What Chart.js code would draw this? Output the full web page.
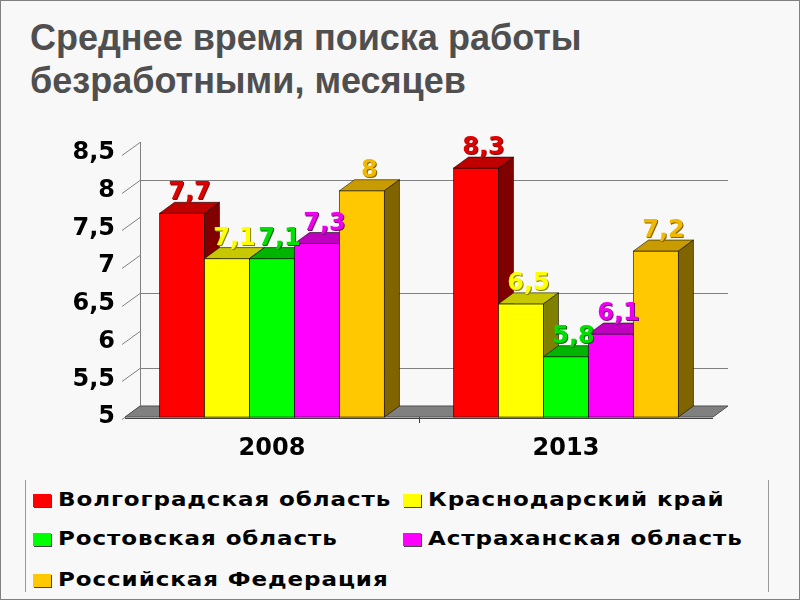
<!DOCTYPE html>
<html>
<head>
<meta charset="utf-8">
<script src="https://cdn.jsdelivr.net/npm/chart.js@4.4.0/dist/chart.umd.min.js"></script>
<style>
body { margin: 0; }
#slide { position: relative; width: 800px; height: 600px; background: #f8f8f8; overflow: hidden; outline: 1px solid #808080; outline-offset: -1px; }
#title { position: absolute; left: 30px; top: 16px; font: bold 36px "Liberation Sans", Arial, sans-serif; color: #4f4f4f; line-height: 43px; }
#chartBox { position: absolute; left: 0; top: 0; width: 800px; height: 470px; }
#legend { position: absolute; left: 25px; top: 480px; width: 742px; height: 112px; border-left: 1px solid #999; border-right: 1px solid #999; }
.item { position: absolute; font: bold 20px "DejaVu Sans", Verdana, sans-serif; color: #000; white-space: nowrap; line-height: 26px; }
.item i { display: inline-block; width: 18px; height: 13px; margin-right: 7px; box-shadow: 1px 1px 0 #444; vertical-align: -1px; }
.item span { display: inline-block; letter-spacing: 0.8px; transform: scaleX(1.15); transform-origin: 0 50%; }
</style>
</head>
<body>
<div id="slide">
  <div id="title">Среднее время поиска работы<br>безработными, месяцев</div>
  <div id="chartBox"><canvas id="chart"></canvas></div>
  <div id="legend"></div>
</div>
<script>
// данные
const categories = ['2008', '2013'];
const regions = ['Волгоградская область', 'Краснодарский край', 'Ростовская область', 'Астраханская область', 'Российская Федерация'];
const volgograd = [7.7, 8.3];
const krasnodar = [7.1, 6.5];
const rostov = [7.1, 5.8];
const astrakhan = [7.3, 6.1];
const russia = [8, 7.2];
const yMin = 5, yMax = 8.5, yStep = 0.5;
const backGrid = [5.5, 6.5, 8]; // линии, видимые на задней стенке

// цвета: лицевая грань, верх, бок, подпись
const frontColors = ['#ff0000', '#ffff00', '#00ff00', '#ff00ff', '#ffc800'];
const topColors = ['#c00000', '#c8c800', '#00b400', '#c000c0', '#c89c00'];
const sideColors = ['#800000', '#808000', '#008000', '#800080', '#806400'];
const labelColors = ['#e00000', '#ffff00', '#00e000', '#ee00ee', '#f0b800'];
const labelShadow = ['#800000', '#808000', '#006000', '#700070', '#806400'];

const DX = 15, DY = 11;

// 3D эффект: стенки, пол, грани столбиков
const box3d = {
  id: 'box3d',
  beforeDatasetsDraw(chart) {
    const { ctx, chartArea: a, scales: { y } } = chart;
    const yb = y.getPixelForValue(yMin);
    const yt = y.getPixelForValue(yMax);
    ctx.save();
    ctx.strokeStyle = '#808080';
    ctx.lineWidth = 1;
    y.ticks.forEach(t => {
      const yy = Math.round(y.getPixelForValue(t.value) - DY) + 0.5;
      ctx.beginPath();
      ctx.moveTo(a.left - 3, yy + DY + 2);
      ctx.lineTo(a.left + DX, yy);
      ctx.stroke();
      if (backGrid.includes(t.value)) {
        ctx.beginPath();
        ctx.moveTo(a.left + DX, yy);
        ctx.lineTo(a.right + DX, yy);
        ctx.stroke();
      }
    });
    ctx.beginPath();
    ctx.moveTo(a.left + DX + 0.5, yt - DY);
    ctx.lineTo(a.left + DX + 0.5, yb - DY);
    ctx.stroke();
    // пол
    ctx.fillStyle = '#808080';
    ctx.strokeStyle = '#505050';
    ctx.beginPath();
    ctx.moveTo(a.left, yb);
    ctx.lineTo(a.right, yb);
    ctx.lineTo(a.right + DX, yb - DY);
    ctx.lineTo(a.left + DX, yb - DY);
    ctx.closePath();
    ctx.fill();
    ctx.stroke();
    // ось X и деление между категориями
    ctx.strokeStyle = '#404040';
    ctx.beginPath();
    ctx.moveTo(a.left, yb + 1.5);
    ctx.lineTo(a.right, yb + 1.5);
    const mid = (a.left + a.right) / 2;
    ctx.moveTo(Math.round(mid) + 0.5, yb);
    ctx.lineTo(Math.round(mid) + 0.5, yb + 6);
    ctx.stroke();
    ctx.restore();
  },
  afterDatasetsDraw(chart) {
    const { ctx, scales: { y: yScale } } = chart;
    const floor = yScale.getPixelForValue(yMin);
    ctx.save();
    ctx.strokeStyle = 'rgba(0,0,0,0.55)';
    ctx.lineWidth = 1;
    // рисуем слева направо, чтобы соседний столбик закрывал бок предыдущего
    chart.data.datasets.forEach((ds, i) => {
      chart.getDatasetMeta(i).data.forEach(bar => {
        const { x, y, width } = bar.getProps(['x', 'y', 'width'], true);
        const l = x - width / 2, r = x + width / 2;
        ctx.fillStyle = frontColors[i];
        ctx.fillRect(l, y, width, floor - y);
        ctx.strokeRect(l, y, width, floor - y);
        ctx.fillStyle = topColors[i];
        ctx.beginPath();
        ctx.moveTo(l, y);
        ctx.lineTo(r, y);
        ctx.lineTo(r + DX, y - DY);
        ctx.lineTo(l + DX, y - DY);
        ctx.closePath();
        ctx.fill();
        ctx.stroke();
        ctx.fillStyle = sideColors[i];
        ctx.beginPath();
        ctx.moveTo(r, y);
        ctx.lineTo(r + DX, y - DY);
        ctx.lineTo(r + DX, floor - DY);
        ctx.lineTo(r, floor);
        ctx.closePath();
        ctx.fill();
        ctx.stroke();
      });
    });
    // подписи значений
    ctx.font = 'bold 24px "DejaVu Sans", Verdana, sans-serif';
    ctx.textAlign = 'center';
    ctx.textBaseline = 'alphabetic';
    chart.data.datasets.forEach((ds, i) => {
      chart.getDatasetMeta(i).data.forEach((bar, j) => {
        const txt = String(ds.data[j]).replace('.', ',');
        const px = bar.x + DX / 2, py = bar.y - DY - 3;
        ctx.fillStyle = labelShadow[i];
        ctx.fillText(txt, px + 1, py + 1);
        ctx.fillStyle = labelColors[i];
        ctx.fillText(txt, px, py);
      });
    });
    ctx.restore();
  }
};

const series = [volgograd, krasnodar, rostov, astrakhan, russia];

new Chart(document.getElementById('chart'), {
  type: 'bar',
  data: {
    labels: categories,
    datasets: series.map((d, i) => ({
      label: regions[i],
      data: d,
      backgroundColor: frontColors[i],
      borderColor: 'rgba(0,0,0,0.55)',
      borderWidth: 1,
      categoryPercentage: 0.765,
      barPercentage: 1
    }))
  },
  options: {
    responsive: true,
    maintainAspectRatio: false,
    animation: false,
    layout: { padding: { top: 153, right: 87, bottom: 0, left: 0 } },
    plugins: { legend: { display: false }, tooltip: { enabled: false } },
    scales: {
      x: {
        grid: { display: false, drawTicks: false },
        border: { display: false },
        ticks: { color: '#000', font: { family: 'DejaVu Sans', weight: 'bold', size: 24 }, padding: 17 },
        afterFit: s => { s.height = 53; }
      },
      y: {
        min: yMin,
        max: yMax,
        grid: { display: false, drawTicks: false },
        border: { display: false },
        ticks: {
          stepSize: yStep,
          color: '#000',
          font: { family: 'DejaVu Sans', weight: 'bold', size: 24 },
          padding: 10,
          callback: v => String(v).replace('.', ',')
        },
        afterFit: s => { s.width = 125; }
      }
    }
  },
  plugins: [box3d]
});

// легенда
const legendPos = [[7, 6], [377, 6], [7, 45], [377, 45], [7, 86]];
const legend = document.getElementById('legend');
regions.forEach((name, i) => {
  const el = document.createElement('div');
  el.className = 'item';
  el.style.left = legendPos[i][0] + 'px';
  el.style.top = legendPos[i][1] + 'px';
  el.innerHTML = '<i style="background:' + frontColors[i] + '"></i><span>' + name + '</span>';
  legend.appendChild(el);
});
</script>
</body>
</html>
